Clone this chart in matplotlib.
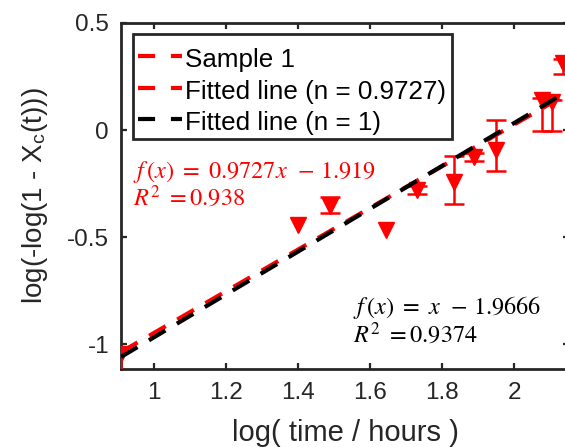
import matplotlib
matplotlib.use('Agg')
import matplotlib.pyplot as plt
import numpy as np
from matplotlib.lines import Line2D
from matplotlib.patches import Rectangle

# ---- data ----
x_data = [0.909, 1.400, 1.489, 1.644, 1.730, 1.833, 1.889, 1.950, 2.077, 2.105, 2.136]
y_data = [-1.045, -0.444, -0.355, -0.467, -0.280, -0.243, -0.126, -0.093, 0.140, 0.131, 0.313]
err_lower = [0.08, 0.0, 0.03, 0.0, 0.02, 0.10, 0.02, 0.10, 0.145, 0.136, 0.05]
err_upper = [0.035, 0.0, 0.045, 0.0, 0.02, 0.12, 0.02, 0.14, 0.01, 0.01, 0.02]

fit_slope, fit_intercept = 0.9727, -1.919
one_slope, one_intercept = 1.0, -1.9666

xticks = [1, 1.2, 1.4, 1.6, 1.8, 2]
xticklabels = ['1', '1.2', '1.4', '1.6', '1.8', '2']
yticks = [-1, -0.5, 0, 0.5]
yticklabels = ['-1', '-0.5', '0', '0.5']

legend_labels = ['Sample 1', 'Fitted line (n = 0.9727)', 'Fitted line (n = 1)']

plt.rcParams['font.family'] = ['Liberation Sans', 'DejaVu Sans']
plt.rcParams['mathtext.fontset'] = 'stix'

W, H = 565, 447
fig = plt.figure(figsize=(W / 100, H / 100), dpi=100)
ax = fig.add_axes([121 / W, (H - 369) / H, (569 - 121) / W, (369 - 23) / H])

axcol = '#262626'
ax.set_xlim(0.908, 2.152)
ax.set_ylim(-1.115, 0.5)

xd = np.array(x_data)
yd = np.array(y_data)
el = np.array(err_lower)
eu = np.array(err_upper)
has_err = (el + eu) > 0
ax.errorbar(xd[has_err], yd[has_err], yerr=[el[has_err], eu[has_err]], fmt='none',
            ecolor='red', elinewidth=1.8, capsize=7, capthick=1.8, zorder=3)
ax.plot(xd, yd, 'v', color='red', markersize=11.5, zorder=3.5)

x_line = np.array(ax.get_xlim())
dash = (4.6, 3.2)
ax.plot(x_line, fit_slope * x_line + fit_intercept, color='red', lw=3,
        linestyle=(0, dash), zorder=4)
ax.plot(x_line, one_slope * x_line + one_intercept, color='black', lw=3,
        linestyle=(0, dash), zorder=5)

ax.set_xticks(xticks)
ax.set_xticklabels(xticklabels)
ax.set_yticks(yticks)
ax.set_yticklabels(yticklabels)
ax.tick_params(direction='in', length=4.3, width=1.6, colors=axcol, labelsize=17.5,
               top=True, right=True, pad=8.6)
ax.tick_params(axis='x', pad=9.4)
for s in ax.spines.values():
    s.set_linewidth(2.0)
    s.set_color(axcol)

ax.set_xlabel('log( time / hours )', fontsize=21, color=axcol, labelpad=11)
ax.set_ylabel(r'log(-log(1 - X$_\mathregular{c}$(t)))', fontsize=20, color=axcol,
              labelpad=12)

# annotations (two lines each, one text object)
ax.text(0.941, -0.355,
        r'$f\,(x)\ {=}\ 0.9727x\ \ {-}\ 1.919$' + '\n' + r'$R^2\ {=}0.938$',
        color='red', fontsize=17.5, va='baseline', ha='left', linespacing=1.0)
ax.text(1.552, -0.995,
        r'$f\,(x)\ {=}\ x\ \ {-}\ 1.9666$' + '\n' + r'$R^2\ {=}0.9374$',
        color='black', fontsize=17.5, va='baseline', ha='left', linespacing=1.05)

# legend frame drawn as a rectangle, entries via legend without frame
ax.add_patch(Rectangle((133 / W, 1 - 139 / H), (452 - 133) / W, (139 - 34) / H,
                       transform=fig.transFigure, facecolor='white', edgecolor=axcol,
                       lw=2.0, zorder=6, clip_on=False))
ldash = (4.1, 3.8)
handles = [Line2D([], [], color='red', lw=3, linestyle=(0, ldash)),
           Line2D([], [], color='red', lw=3, linestyle=(0, ldash)),
           Line2D([], [], color='black', lw=3, linestyle=(0, ldash))]
leg = ax.legend(handles, legend_labels, loc='upper left',
                bbox_to_anchor=(133 / W, 1 - 40 / H), bbox_transform=fig.transFigure,
                borderaxespad=0, fontsize=18.7, frameon=False,
                handlelength=1.7, handletextpad=0.12,
                labelspacing=0.17, borderpad=0.2, handleheight=1.2)
leg.set_zorder(7)

fig.savefig('out.png', dpi=100)
